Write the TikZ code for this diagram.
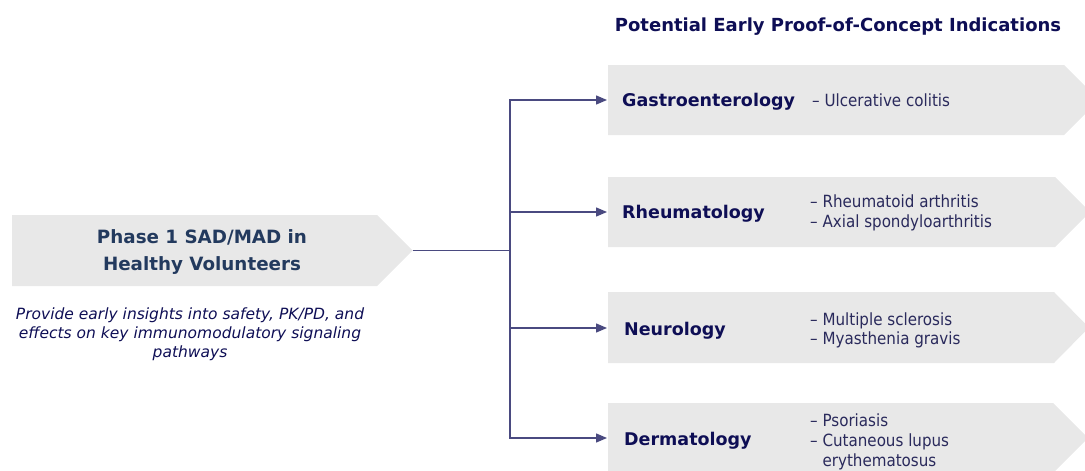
\documentclass[tikz,border=0pt]{standalone}
\usepackage{fontspec}
\setmainfont{DejaVu Sans}
\newfontfamily\condfont{DejaVu Sans Condensed}
\usetikzlibrary{arrows.meta}
\definecolor{boxgray}{HTML}{E8E8E8}
\definecolor{navy}{HTML}{0E0E55}
\definecolor{slate}{HTML}{233A5E}
\definecolor{linec}{HTML}{4A4A80}
\definecolor{subc}{HTML}{2A2A5C}
\tikzset{
  pbox/.style={fill=boxgray, draw=none},
  cat/.style={anchor=base west, inner sep=0pt, font=\fontsize{17.5}{20}\selectfont\bfseries, text=navy},
  sub/.style={anchor=base west, inner sep=0pt, font=\condfont\fontsize{16.8}{20}\selectfont, text=subc},
  phasetxt/.style={anchor=base, inner sep=0pt, font=\fontsize{18.3}{22}\selectfont\bfseries, text=slate},
  desctxt/.style={anchor=base, inner sep=0pt, font=\fontsize{15.5}{19}\selectfont\itshape, text=navy},
  conn/.style={draw=linec, line width=1.3pt},
  arr/.style={conn, -{Triangle[length=11pt,width=9pt]}, shorten >=1pt},
}
\begin{document}
\begin{tikzpicture}[x=1pt,y=-1pt]
\useasboundingbox (0,0) rectangle (1085,471);
% boxes
\fill[pbox] (12,215) -- (377,215) -- (412.5,250.5) -- (377,286) -- (12,286) -- cycle;
\fill[pbox] (608,65) -- (1064,65) -- (1099,100) -- (1064,135) -- (608,135) -- cycle;
\fill[pbox] (608,177) -- (1055,177) -- (1090,212) -- (1055,247) -- (608,247) -- cycle;
\fill[pbox] (608,292) -- (1054,292) -- (1089,327.5) -- (1054,363) -- (608,363) -- cycle;
\fill[pbox] (608,403) -- (1053,403) -- (1088,438) -- (1053,473) -- (608,473) -- cycle;
% coordinates
\coordinate (ptip) at (412.5,250.5);
\coordinate (j) at (510,250.5);
\coordinate (g1) at (608,100);
\coordinate (g2) at (608,212);
\coordinate (g3) at (608,328);
\coordinate (g4) at (608,438);
% title
\node[anchor=base, inner sep=0pt, font=\fontsize{18}{20}\selectfont\bfseries, text=navy] (title) at (838,31.5) {Potential Early Proof-of-Concept Indications};
% phase
\node[phasetxt] (phase1) at (202,243.5) {Phase 1 SAD/MAD in};
\node[phasetxt] (phase2) at (202,270) {Healthy Volunteers};
\node[desctxt] (desc1) at (190,319) {Provide early insights into safety, PK/PD, and};
\node[desctxt] (desc2) at (190,338) {effects on key immunomodulatory signaling};
\node[desctxt] (desc3) at (190,357) {pathways};
% connectors
\draw[conn] (ptip) -- (j);
\draw[arr] (j) |- (g1);
\draw[arr] (j) |- (g2);
\draw[arr] (j) |- (g3);
\draw[arr] (j) |- (g4);
% categories
\node[cat] (c1) at (622,106) {Gastroenterology};
\node[sub] (s1) at (812,106) {– Ulcerative colitis};
\node[cat] (c2) at (622,218.5) {Rheumatology};
\node[sub] (s2a) at (810,207.5) {– Rheumatoid arthritis};
\node[sub] (s2b) at (810,227) {– Axial spondyloarthritis};
\node[cat] (c3) at (624,335) {Neurology};
\node[sub] (s3a) at (810,325) {– Multiple sclerosis};
\node[sub] (s3b) at (810,344.5) {– Myasthenia gravis};
\node[cat] (c4) at (624,445.5) {Dermatology};
\node[sub] (s4a) at (810,426.5) {– Psoriasis};
\node[sub] (s4b) at (810,446.5) {– Cutaneous lupus};
\node[sub] (s4c) at (810,466.5) {\phantom{– }erythematosus};
\end{tikzpicture}
\end{document}
